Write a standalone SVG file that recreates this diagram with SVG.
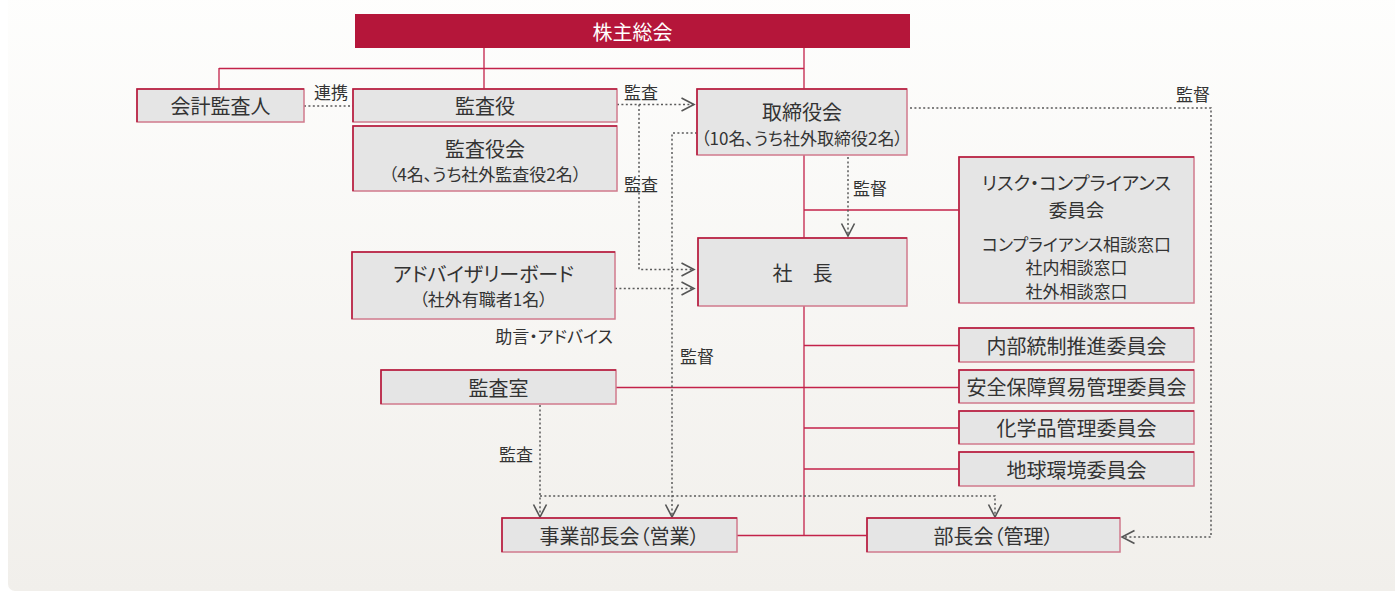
<svg xmlns="http://www.w3.org/2000/svg" width="1395" height="592" viewBox="0 0 1395 592">
<defs>
<linearGradient id="bg" x1="0" y1="0" x2="0" y2="1">
<stop offset="0" stop-color="#fefefd"/>
<stop offset="1" stop-color="#f1efeb"/>
</linearGradient>
<marker id="chev" markerUnits="userSpaceOnUse" markerWidth="16" markerHeight="18" refX="13" refY="7" orient="auto" overflow="visible">
<path d="M0.5,0.5 L13,7 L0.5,13.5" fill="none" stroke="#555" stroke-width="1.6" stroke-dasharray="none"/>
</marker>
<style>
text{font-family:"Noto Sans CJK JP","Noto Sans CJK SC",sans-serif;fill:#333;text-anchor:middle;dominant-baseline:central;font-feature-settings:"palt";}
.t{font-size:20px;}
.r{font-size:18.5px;}
.s{font-size:17px;}
.l{font-size:17px;}
.w{fill:#fff;font-size:20px;}
.box{fill:#e5e5e5;stroke:#d07a8c;stroke-width:1.5;}
.hl{fill:none;stroke:#b5163a;stroke-width:1.5;}
.red{fill:none;stroke:#c3224a;stroke-width:1.3;}
.dot{fill:none;stroke:#5a5a5a;stroke-width:1.5;stroke-dasharray:2 2.4;}
.arr{marker-end:url(#chev);}
</style>
</defs>
<rect x="8" y="-10" width="1400" height="601" rx="7" fill="url(#bg)"/>

<g id="connectors">
<path class="red" d="M484,48V89 M804,48V89 M219,68.5H804 M219,68V89"/>
<path class="red" d="M804,155V238 M804,210H959"/>
<path class="red" d="M804,306V536 M804,345.5H959 M616,387.5H959 M804,428H959 M804,469H959 M737,535.5H867"/>
<path class="dot" d="M304,106H353"/>
<path class="dot arr" d="M617,104.5H694"/>
<path class="dot arr" d="M639,104.5V269.5H694"/>
<path class="dot arr" d="M615,288.5H694"/>
<path class="dot arr" d="M697,133H672V517"/>
<path class="dot arr" d="M848,157V236"/>
<path class="dot arr" d="M910,108H1211V537H1122"/>
<path class="dot arr" d="M540,405V517"/>
<path class="dot arr" d="M540,496H995V517"/>
<text class="l" x="331" y="91">連携</text>
<text class="l" x="641" y="91">監査</text>
<text class="l" x="641" y="183">監査</text>
<text class="l" x="870" y="187">監督</text>
<text class="l" x="1193" y="93">監督</text>
<text class="l" x="554" y="335">助言・アドバイス</text>
<text class="l" x="697" y="355">監督</text>
<text class="l" x="516" y="453">監査</text>
</g>

<g id="n-shareholders">
<rect x="355" y="14" width="555" height="34" fill="#b5163a"/>
<text class="w" x="632.5" y="31">株主総会</text>
</g>
<g id="n-accounting-auditor">
<rect class="box" x="137" y="89" width="167" height="33"/>
<path class="hl" d="M137,122V89H304"/>
<text class="t" x="220.5" y="105.5">会計監査人</text>
</g>
<g id="n-auditor">
<rect class="box" x="353" y="89" width="264" height="33"/>
<path class="hl" d="M353,122V89H617"/>
<text class="t" x="485" y="105.5">監査役</text>
</g>
<g id="n-audit-board">
<rect class="box" x="353" y="126" width="264" height="65"/>
<path class="hl" d="M353,191V126H617"/>
<text class="t" x="485" y="148">監査役会</text>
<text class="s" x="485" y="173">（4名、うち社外監査役2名）</text>
</g>
<g id="n-board">
<rect class="box" x="697" y="89" width="210" height="66"/>
<path class="hl" d="M697,155V89H907"/>
<text class="t" x="802" y="111.5">取締役会</text>
<text class="s" x="802" y="137">（10名、うち社外取締役2名）</text>
</g>
<g id="n-risk">
<rect class="box" x="959" y="157" width="235" height="146"/>
<path class="hl" d="M959,303V157H1194"/>
<text class="r" x="1076.5" y="182">リスク・コンプライアンス</text>
<text class="r" x="1076.5" y="209">委員会</text>
<text class="s" x="1076.5" y="243">コンプライアンス相談窓口</text>
<text class="s" x="1076.5" y="266.5">社内相談窓口</text>
<text class="s" x="1076.5" y="290">社外相談窓口</text>
</g>
<g id="n-advisory">
<rect class="box" x="352" y="252" width="263" height="67"/>
<path class="hl" d="M352,319V252H615"/>
<text class="t" x="483.5" y="273">アドバイザリーボード</text>
<text class="s" x="483.5" y="298">（社外有職者1名）</text>
</g>
<g id="n-president">
<rect class="box" x="698" y="238" width="209" height="68"/>
<path class="hl" d="M698,306V238H907"/>
<text class="t" x="802.5" y="272">社　長</text>
</g>
<g id="n-audit-office">
<rect class="box" x="381" y="370" width="235" height="34"/>
<path class="hl" d="M381,404V370H616"/>
<text class="t" x="498.5" y="387">監査室</text>
</g>
<g id="n-internal-control">
<rect class="box" x="959" y="328" width="235" height="34"/>
<path class="hl" d="M959,362V328H1194"/>
<text class="t" x="1076.5" y="345">内部統制推進委員会</text>
</g>
<g id="n-security-trade">
<rect class="box" x="959" y="370" width="235" height="33"/>
<path class="hl" d="M959,403V370H1194"/>
<text class="t" x="1076.5" y="386.5">安全保障貿易管理委員会</text>
</g>
<g id="n-chemical">
<rect class="box" x="959" y="411" width="235" height="33"/>
<path class="hl" d="M959,444V411H1194"/>
<text class="t" x="1076.5" y="427.5">化学品管理委員会</text>
</g>
<g id="n-environment">
<rect class="box" x="959" y="452" width="235" height="34"/>
<path class="hl" d="M959,486V452H1194"/>
<text class="t" x="1076.5" y="469">地球環境委員会</text>
</g>
<g id="n-sales-managers">
<rect class="box" x="502" y="518" width="235" height="34"/>
<path class="hl" d="M502,552V518H737"/>
<text class="t" x="619.5" y="535">事業部長会（営業）</text>
</g>
<g id="n-admin-managers">
<rect class="box" x="867" y="518" width="253" height="34"/>
<path class="hl" d="M867,552V518H1120"/>
<text class="t" x="993.5" y="535">部長会（管理）</text>
</g>
</svg>
